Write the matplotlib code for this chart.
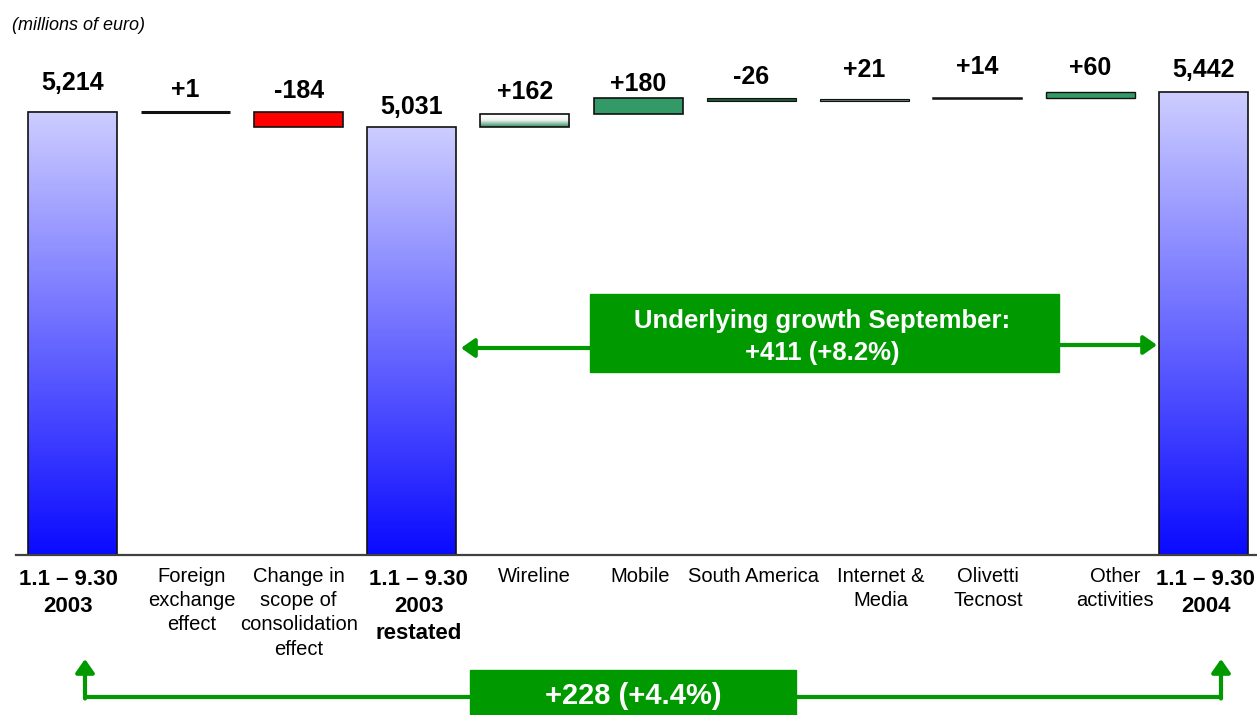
import numpy as np
import matplotlib.pyplot as plt
import matplotlib.transforms as mtransforms
from matplotlib.colors import LinearSegmentedColormap
from matplotlib.patches import Rectangle

plt.rcParams['font.family'] = ['Liberation Sans', 'DejaVu Sans']

# waterfall data (millions of euro)
categories = ["1.1 – 9.30\n2003", "Foreign\nexchange\neffect",
              "Change in\nscope of\nconsolidation\neffect",
              "1.1 – 9.30\n2003\nrestated", "Wireline", "Mobile",
              "South America", "Internet &\nMedia", "Olivetti\nTecnost",
              "Other\nactivities", "1.1 – 9.30\n2004"]
values = [5214, 1, -184, 5031, 162, 180, -26, 21, 14, 60, 5442]
is_total = [True, False, False, True, False, False, False, False, False, False, True]
value_labels = ["5,214", "+1", "-184", "5,031", "+162", "+180", "-26", "+21", "+14", "+60", "5,442"]
underlying_text = "Underlying growth September:\n+411 (+8.2%)"
total_text = "+228 (+4.4%)"

# styling per bar
fills = [None, "black", "#ff0000", None, "grad", "#339966", "#1b5a3a",
         "#5f7d6c", "black", "#339966", None]
edge_lw = [1.2, 2.2, 1.2, 1.2, 1.2, 1.2, 0.8, 0.8, 1.1, 1.0, 1.2]
label_lift = [29, 22, 21, 20, 22, 14, 21, 29, 31, 24, 22]      # px above bar top
label_nudge = [-4, 6, 0, 7, 9, 2, 2, 17, 11, 25, 2]            # px x shift of category text

W, H = 1257, 715
GREEN = "#009900"
step, first_x, base_y, scale = 113.1, 72.5, 555, 0.085
bar_w = 89 / step

fig = plt.figure(figsize=(W / 100, H / 100), dpi=100)
ax = fig.add_axes([0, 0, 1, 1])
ax.axis("off")
# pixel coordinates measured from the top-left corner
pix = mtransforms.Affine2D().scale(1, -1).translate(0, H)

total_cmap = LinearSegmentedColormap.from_list("tot", ["#0a0aff", "#cdcdff"])
wire_cmap = LinearSegmentedColormap.from_list(
    "wire", [(0, "#2f8a5f"), (0.5, "#eef5f0"), (0.8, "#ffffff"), (1, "#d2e0d6")])
grad = np.linspace(0, 1, 256).reshape(-1, 1)

x = np.arange(len(values))
running = 0
for i, (v, tot) in enumerate(zip(values, is_total)):
    if tot:
        bottom, height = 0, v
        running = v
    else:
        bottom, height = running, v
        running += v
    x0, x1 = x[i] - bar_w / 2, x[i] + bar_w / 2
    lo, hi = min(bottom, bottom + height), max(bottom, bottom + height)
    if tot or fills[i] == "grad":
        cmap = total_cmap if tot else wire_cmap
        ax.imshow(grad, cmap=cmap, origin="lower", aspect="auto",
                  extent=[x0, x1, lo, hi], zorder=2)
        ax.bar(x[i], height, bottom=bottom, width=bar_w, facecolor="none",
               edgecolor="#111111", linewidth=edge_lw[i], zorder=3)
    else:
        ax.bar(x[i], height, bottom=bottom, width=bar_w, color=fills[i],
               edgecolor="#111111", linewidth=edge_lw[i], zorder=3)
    ax.annotate(value_labels[i], (x[i], hi), xytext=(0, label_lift[i] * 0.72),
                textcoords="offset points", ha="center", va="center",
                fontsize=18, fontweight="bold")
    # category text under the axis
    cx = first_x + i * step + label_nudge[i]
    ax.text(cx, 569 if tot else 567, categories[i], transform=pix, ha="center",
            va="top", fontsize=16 if tot else 14.5,
            fontweight="bold" if tot else "normal",
            linespacing=1.38 if tot else 1.35)

# baseline
ax.plot([16, W], [base_y, base_y], transform=pix, color="#404040", lw=1.6, zorder=4)

ax.text(12, 25, "(millions of euro)", transform=pix, ha="left", va="center",
        fontsize=13, style="italic")

# underlying growth box with arrows to the restated and 2004 bars
ax.add_patch(Rectangle((590, 294), 469, 78, transform=pix, color=GREEN, zorder=5))
ax.text(822, 337, underlying_text, transform=pix, ha="center", va="center",
        color="white", fontsize=18.5, fontweight="bold", linespacing=1.4, zorder=6)
arrow = dict(arrowstyle="-|>,head_length=0.4,head_width=0.28", color=GREEN,
             lw=3, shrinkA=0, shrinkB=0, mutation_scale=20)
ax.annotate("", xy=(461, 348), xytext=(591, 348), xycoords=pix, textcoords=pix,
            arrowprops=arrow)
ax.annotate("", xy=(1157, 345), xytext=(1058, 345), xycoords=pix, textcoords=pix,
            arrowprops=arrow)

# total change bracket at the bottom
ax.plot([85, 1221], [697, 697], transform=pix, color=GREEN, lw=3, solid_capstyle="butt")
ax.annotate("", xy=(85, 659), xytext=(85, 698.5), xycoords=pix, textcoords=pix,
            arrowprops=arrow)
ax.annotate("", xy=(1221, 659), xytext=(1221, 698.5), xycoords=pix, textcoords=pix,
            arrowprops=arrow)
ax.add_patch(Rectangle((470, 670), 326, 50, transform=pix, color=GREEN, zorder=5))
ax.text(633, 696, total_text, transform=pix, ha="center", va="center",
        color="white", fontsize=21, fontweight="bold", zorder=6)

ax.set_xlim(-first_x / step, (W - first_x) / step)
ax.set_ylim(-(H - base_y) / scale, base_y / scale)

plt.savefig("out.png", dpi=100)
